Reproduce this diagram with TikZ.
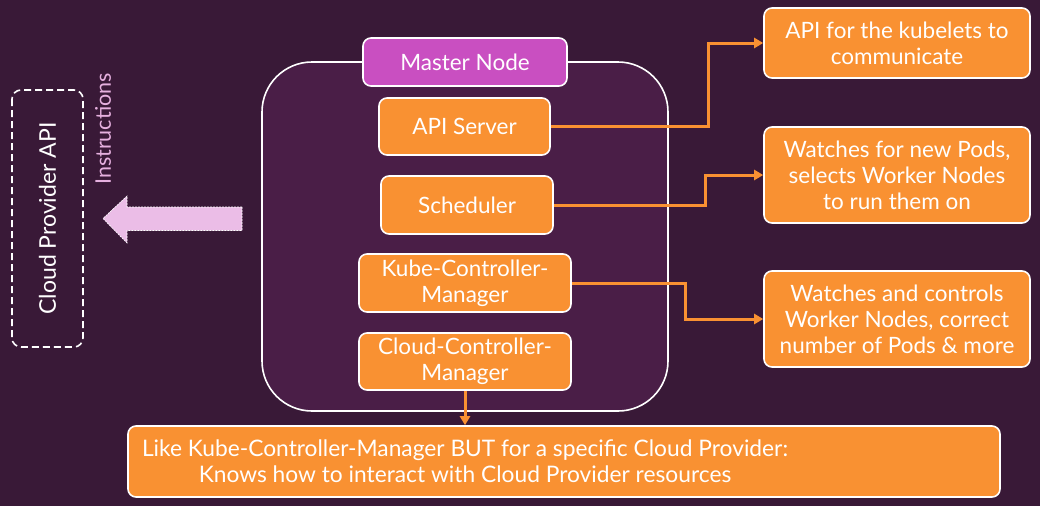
\documentclass[tikz,border=0pt]{standalone}
\usepackage{fontspec}
\setmainfont{Lato}
\usepackage{tikz}
\usetikzlibrary{arrows.meta}

\definecolor{bgPurple}{HTML}{391937}
\definecolor{innerPurple}{HTML}{4A1E47}
\definecolor{magentaK}{HTML}{C94FC1}
\definecolor{orangeK}{HTML}{F99132}
\definecolor{pinkK}{HTML}{EBBDE7}
\definecolor{pinkText}{HTML}{E6B0DF}

\tikzset{
  box/.style={draw=white, line width=1.6pt, rounded corners=8pt, fill=orangeK,
    text=white, align=center, inner sep=1pt, font=\fontsize{22.5}{26}\selectfont},
  link/.style={draw=orangeK, line width=3pt, -{Triangle[length=9pt,width=10pt]}}
}

\begin{document}
\begin{tikzpicture}[x=1pt, y=-1pt]
  % Hintergrund und Rahmen
  \fill[bgPurple] (0,0) rectangle (1040,506);
  \useasboundingbox (0,0) rectangle (1040,506);

  % Master Node (aeusserer Rahmen)
  \node[draw=white, line width=1.6pt, fill=innerPurple, rounded corners=50pt,
    minimum width=406pt, minimum height=349pt] (master) at (465,236.5) {};
  \node[box, fill=magentaK, minimum width=204pt, minimum height=48pt] (mlabel) at (465,62) {Master Node};

  % Komponenten
  \node[box, minimum width=171pt, minimum height=57pt] (api) at (464.5,126.5) {API Server};
  \node[box, minimum width=172pt, minimum height=58pt] (sched) at (467,205) {Scheduler};
  \node[box, minimum width=212pt, minimum height=58pt] (kcm) at (465,283) {Kube-Controller-\\Manager};
  \node[box, minimum width=212pt, minimum height=57pt] (ccm) at (465,361.5) {Cloud-Controller-\\Manager};

  % Beschreibungen rechts
  \node[box, minimum width=266pt, minimum height=70pt] (kubelets) at (897,43) {API for the kubelets to\\communicate};
  \node[box, minimum width=266pt, minimum height=96pt] (watches) at (897,175) {Watches for new Pods,\\selects Worker Nodes\\to run them on};
  \node[box, minimum width=266pt, minimum height=96pt] (controls) at (897,319) {Watches and controls\\Worker Nodes, correct\\number of Pods \& more};

  % Beschreibung unten (Text unter dem Cloud-Controller-Manager zentriert)
  \node[box, minimum width=872pt, minimum height=71pt] (cloudctl) at (564,461.5) {};
  \node[text=white, align=center, font=\fontsize{22.75}{26}\selectfont] (cloudtxt) at (465,461.5) {Like Kube-Controller-Manager BUT for a specific Cloud Provider:\\Knows how to interact with Cloud Provider resources};

  % Cloud Provider API (links)
  \node[draw=white, line width=1.6pt, dash pattern=on 7pt off 4pt, rounded corners=9pt,
    rotate=90, minimum width=257pt, minimum height=71pt, text=white,
    font=\fontsize{23}{26}\selectfont] (cpapi) at (47.5,218.5) {Cloud Provider API};
  \node[rotate=90, text=pinkText, font=\fontsize{21.5}{24}\selectfont] (instr) at (103,129) {Instructions};

  % grosser Pfeil
  \draw[fill=pinkK, draw=white, line width=0.6pt, dash pattern=on 2pt off 1pt]
    (242,207) -- (127,207) -- (127,196) -- (103,218.5) -- (127,243) -- (127,230.5) -- (242,230.5) -- cycle;

  % Verbindungen
  \coordinate (bendA) at (708,0);
  \coordinate (bendB) at (705,0);
  \coordinate (bendC) at (685,0);
  \draw[link] (api.east) -- (api.east -| bendA) |- (kubelets.west);
  \draw[link] (sched.east) -- (sched.east -| bendB) |- (watches.west);
  \draw[link] (kcm.east) -- (kcm.east -| bendC) |- (controls.west);
  \draw[link] (ccm.south) -- (ccm.south |- cloudctl.north);

\end{tikzpicture}
\end{document}
